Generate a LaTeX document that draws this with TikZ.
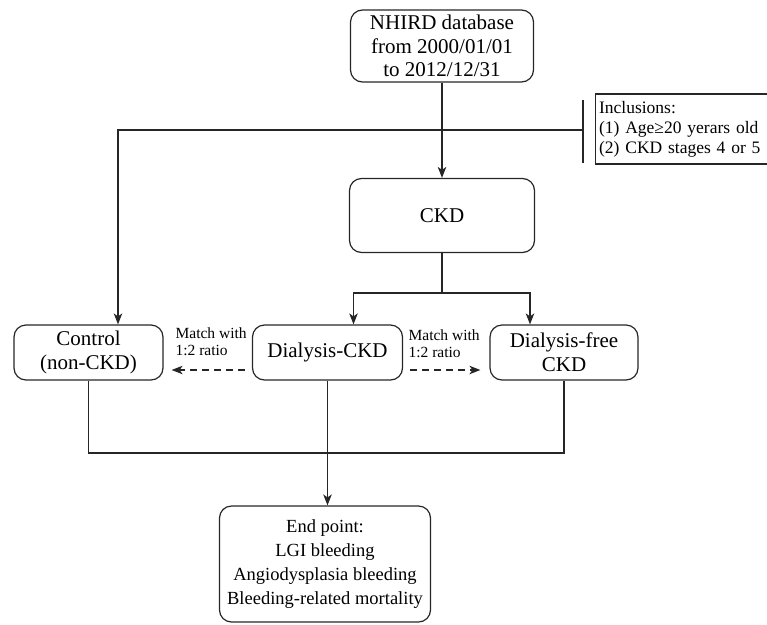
\documentclass[tikz,border=0pt]{standalone}
\usepackage{fontspec}
\setmainfont{Liberation Serif}
\usetikzlibrary{arrows.meta,calc}
\begin{document}
\begin{tikzpicture}[x=1pt,y=-1pt,
  line width=1.2pt,
  lc/.style={draw=black!85},
  rbox/.style={lc, rounded corners=12pt, align=center, inner sep=0pt},
  bigtxt/.style={font=\fontsize{21}{24}\selectfont},
  arr/.style={lc, -{Stealth[length=11pt,width=8.5pt,inset=3pt]}},
  dsh/.style={dash pattern=on 7pt off 5pt},
  matchlbl/.style={font=\fontsize{15.5}{17}\selectfont, align=left, inner sep=0pt, anchor=north west}
]
\useasboundingbox (0,0) rectangle (767,624);

\node[rbox, font=\fontsize{21}{23.5}\selectfont, minimum width=183pt, minimum height=72pt] (nhird) at (442,46)
  {NHIRD database\\from 2000/01/01\\to 2012/12/31};
\node[rbox, bigtxt, minimum width=185pt, minimum height=74pt] (ckd) at (442,215.5) {CKD};
\node[rbox, bigtxt, minimum width=149pt, minimum height=55pt] (ctrl) at (88.5,352.5) {Control\\(non-CKD)};
\node[rbox, bigtxt, minimum width=150pt, minimum height=55pt] (dial) at (327.5,352.5) {Dialysis-CKD};
\node[rbox, bigtxt, minimum width=148pt, minimum height=55pt] (free) at (564,352.5) {Dialysis-free\\CKD};
\node[rbox, font=\fontsize{18.5}{24}\selectfont, minimum width=211pt, minimum height=116pt] (endp) at (325,564)
  {End point:\\LGI bleeding\\Angiodysplasia bleeding\\Bleeding-related mortality};

\node[lc, rectangle, anchor=west, text width=165pt, inner xsep=3.5pt, inner ysep=0pt, minimum height=70pt,
  align=left, font=\fontsize{17.5}{20}\selectfont] (incl) at (595,129)
  {Inclusions:\\(1) Age≥20 yerars old\\(2) CKD stages 4 or 5};

\node[matchlbl] (m1) at (175,327.4) {Match with\\1:2 ratio};
\node[matchlbl] (m2) at (408,329.4) {Match with\\1:2 ratio};

% coordinates
\coordinate (bartop) at (583,100);
\coordinate (barbot) at (583,163);
\coordinate (barmid) at (583,130);
\coordinate (lcorner) at (118,130);
\coordinate (split) at (442,293);
\coordinate (join) at (0,453);

% connectors
\draw[arr] (nhird.south) -- (ckd.north);
\draw[lc] (bartop) -- (barbot);
\draw[arr] (barmid) -- (lcorner) -- (lcorner |- ctrl.north);
\draw[lc] (ckd.south) -- (split);
\draw[arr] (split) -| ([xshift=26pt]dial.north);
\draw[arr] (split) -| ([xshift=-34pt]free.north);
\draw[arr, dsh, shorten <=7pt, shorten >=8pt] ([yshift=-17.5pt]dial.west) -- ([yshift=-17.5pt]dial.west -| ctrl.east);
\draw[arr, dsh, shorten <=7pt, shorten >=9pt] ([yshift=-17.5pt]dial.east) -- ([yshift=-17.5pt]dial.east -| free.west);
\draw[lc] (ctrl.south) -- (ctrl.south |- join) -- (free.south |- join) -- (free.south);
\draw[arr] (dial.south) -- (dial.south |- endp.north);
\end{tikzpicture}
\end{document}
